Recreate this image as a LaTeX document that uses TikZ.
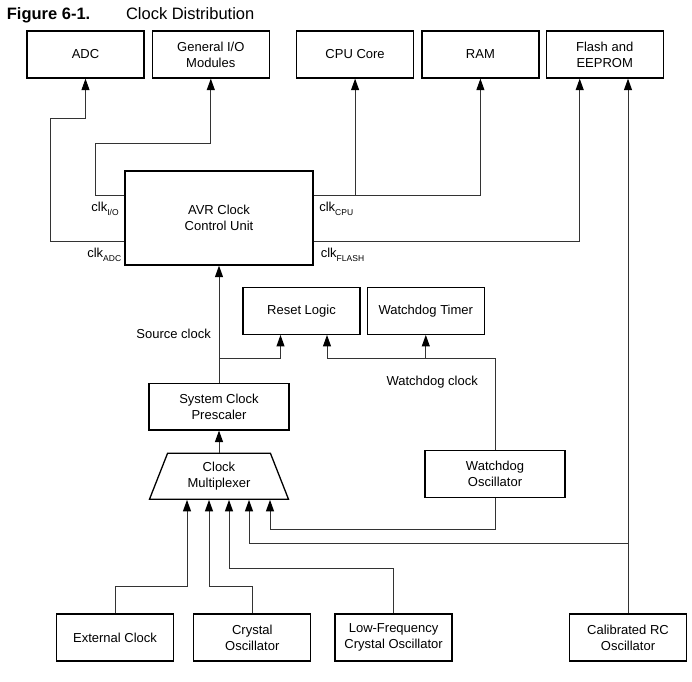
\documentclass[tikz,border=0pt]{standalone}
\usepackage{fontspec}
\setmainfont{Liberation Sans}
\usetikzlibrary{shapes.geometric, arrows.meta}
\usetikzlibrary{positioning}
\tikzstyle{block} = [rectangle, minimum width=117pt, minimum height=47pt, text centered,
align=center, draw=black, line width=1.3pt, inner sep=2pt]
\tikzstyle{wideblock} = [block, minimum width=140pt, minimum height=46.6pt]
\tikzstyle{muxbox} = [trapezium, trapezium angle=59, trapezium stretches body, minimum
width=139pt, minimum height=46pt, text centered, align=center, draw=black, line width=1.3pt, inner sep=1pt]
\tikzstyle{arrow} = [draw=black!80, line width=1pt, -{Triangle[black, length=11.5pt, width=8pt]}]
\tikzstyle{tag} = [inner sep=0pt]
\newcommand{\clk}[1]{clk\raisebox{-3.5pt}{\fontsize{8.5}{8.5}\selectfont #1}}
\usetikzlibrary{calc}

\begin{document}
\begin{tikzpicture} [x=1pt, y=-1pt, node distance=7pt, font=\fontsize{13}{16}\selectfont]
    \useasboundingbox (0,0) rectangle (692,681);
    \node (titlenum) [tag, anchor=base west, font=\fontsize{16.5}{20}\selectfont\bfseries] at (6.7,19.3) {Figure 6-1.};
    \node (titletext) [tag, anchor=base west, font=\fontsize{16.5}{20}\selectfont] at (125.8,19.3) {Clock Distribution};

    \node (adc) [block] at (85.5,54.5) {ADC};
    \node (gio) [block, right=7pt of adc] {General I/O\\Modules};
    \node (cpu) [block, right=26pt of gio] {CPU Core};
    \node (ram) [block, right=7pt of cpu] {RAM};
    \node (flash) [block, right=6pt of ram] {Flash and\\EEPROM};
    \node (avr) [block, minimum width=188pt, minimum height=94pt] at (219,218) {AVR Clock\\Control Unit};
    \node (reset) [block, minimum height=46.6pt] at (301.5,311) {Reset Logic};
    \node (wdt) [block, minimum height=46.6pt, right=6pt of reset] {Watchdog Timer};
    \node (presc) [wideblock, below=117pt of avr] {System Clock\\Prescaler};
    \node (mux) [muxbox, below=22pt of presc] {Clock\\Multiplexer};
    \node (wdo) [wideblock] at (495,474) {Watchdog\\Oscillator};
    \node (ext) [block] at (115,637.5) {External Clock};
    \node (xtal) [block, right=19pt of ext] {Crystal\\Oscillator};
    \node (lfx) [block, right=23pt of xtal] {Low-Frequency\\Crystal Oscillator};
    \node (rc) [block] at (628,637.5) {Calibrated RC\\Oscillator};

    \coordinate (cpuline) at ($(avr.east)+(0,-23)$);
    \coordinate (flashline) at ($(avr.east)+(0,23)$);
    \coordinate (split) at ($(presc.north)+(0,-24)$);

    \node (clkio) [tag, anchor=north east] at ($(avr.west)+(-5.5,-16)$) {\clk{I/O}};
    \node (clkadc) [tag, anchor=north east] at ($(avr.west)+(-3,30)$) {\clk{ADC}};
    \node (clkcpu) [tag, anchor=north west] at ($(avr.east)+(5.5,-16)$) {\clk{CPU}};
    \node (clkflash) [tag, anchor=north west] at ($(avr.east)+(7,30)$) {\clk{FLASH}};
    \node (srcclk) [tag, anchor=east] at ($(split)+(-8,-25)$) {Source clock};
    \node (wdclk) [tag, anchor=east] at ($(wdo.north)+(-17,-68)$) {Watchdog clock};

    \draw[arrow] ($(avr.west)+(0,23)$) -| (50,118) -| (adc.south);
    \draw[arrow] ($(avr.west)+(0,-23)$) -| (95.5,143) -| (gio.south);
    \draw[arrow] (cpuline) -| (ram.south);
    \draw[arrow] (cpuline -| cpu.south) -- (cpu.south);
    \draw[arrow] (flashline) -| ($(flash.south)+(-25,0)$);
    \draw[arrow] (rc.north) -- (rc.north |- flash.south);
    \draw[arrow] (presc.north) -- (avr.south);
    \draw[arrow] (split) -| ($(reset.south)+(-21,0)$);
    \draw[arrow] (wdo.north) |- ($(reset.south |- split)+(25.5,0)$) -- ($(reset.south)+(25.5,0)$);
    \draw[arrow] (wdt.south |- split) -- (wdt.south);
    \draw[arrow] (mux.north) -- (presc.south);
    \draw[arrow] (ext.north) -- ++(0,-27) -| ($(mux.south)+(-32,0)$);
    \draw[arrow] (xtal.north) -- ++(0,-27) -| ($(mux.south)+(-10,0)$);
    \draw[arrow] (lfx.north) -- ++(0,-45) -| ($(mux.south)+(10,0)$);
    \draw[arrow] ($(rc.north)+(0,-70)$) -| ($(mux.south)+(30,0)$);
    \draw[arrow] (wdo.south) -- ++(0,32) -| ($(mux.south)+(51,0)$);

\end{tikzpicture}
\end{document}
